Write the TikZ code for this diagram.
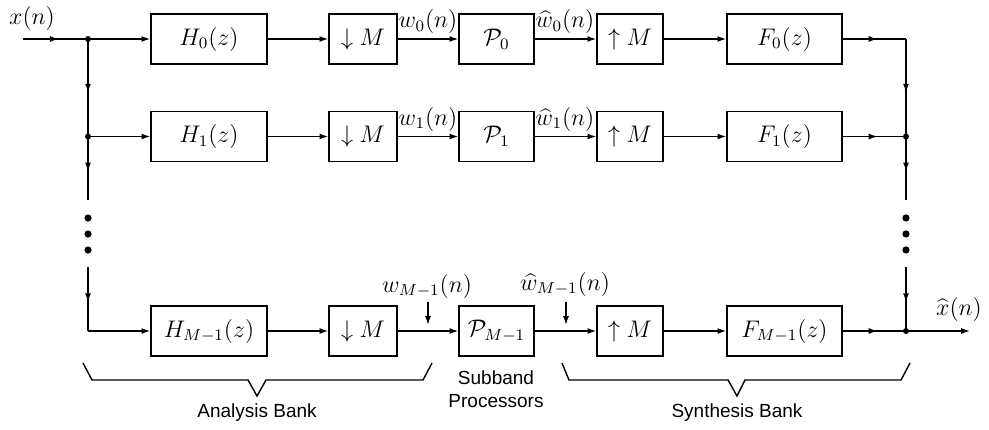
\documentclass[tikz,border=0pt]{standalone}
\usepackage{fontspec}
\newfontfamily\labelsf{Liberation Sans}
\usetikzlibrary{arrows.meta,decorations.markings}
\tikzset{
  lw/.style={line width=0.7pt},
  tip/.tip={Latex[length=4.4pt,width=3pt]},
  blk/.style={draw,lw,inner sep=0pt,minimum height=25pt,font=\fontsize{12}{14}\selectfont},
  conn/.style={lw,-tip},
  midarr/.style={lw,decoration={markings,mark=at position 0.55 with {\arrow[line width=0.7pt]{tip}}},postaction={decorate}},
  mlabel/.style={inner sep=0pt,font=\fontsize{12}{14}\selectfont},
  slabel/.style={inner sep=0pt,align=center,font=\labelsf\fontsize{9.5}{11.5}\selectfont},
  jdot/.style={circle,fill,inner sep=0pt,minimum size=3pt},
  edot/.style={circle,fill,inner sep=0pt,minimum size=3.6pt},
}
\begin{document}
\begin{tikzpicture}[x=0.5pt,y=-0.5pt]
\useasboundingbox (0,0) rectangle (989,429);
% boxes
\foreach \r/\y/\s in {0/39/0,1/136.5/1,2/331/{M-1}}{
  \node[blk,minimum width=58pt]   (H\r) at (209,\y)   {$H_{\s}(z)$};
  \node[blk,minimum width=34pt]   (D\r) at (363,\y)   {$\downarrow M$};
  \node[blk,minimum width=37.5pt] (P\r) at (496.5,\y) {$\mathcal{P}_{\s}$};
  \node[blk,minimum width=33pt]   (U\r) at (630,\y)   {$\uparrow M$};
  \node[blk,minimum width=57.5pt] (F\r) at (784.5,\y) {$F_{\s}(z)$};
  \draw[conn] (H\r) -- (D\r);
  \draw[conn] (D\r) -- (P\r);
  \draw[conn] (P\r) -- (U\r);
  \draw[conn] (U\r) -- (F\r);
}
% left side
\coordinate (in) at (23,39);
\coordinate (J0) at (88,39);
\coordinate (J1) at (88,136.5);
\coordinate (La) at (88,200);
\coordinate (Lb) at (88,267);
\coordinate (J2) at (88,331);
\draw[midarr] (in) -- (J0);
\draw[conn] (J0) -- (H0);
\draw[conn] (J1) -- (H1);
\draw[conn] (J2) -- (H2);
\draw[midarr] (J0) -- (J1);
\draw[midarr] (J1) -- (La);
\draw[midarr] (Lb) -- (J2);
\node[jdot] at (J0) {};
\node[jdot] at (J1) {};
\foreach \yy in {218,234,250} \node[edot] at (88,\yy) {};
% right side
\coordinate (R0) at (906,39);
\coordinate (R1) at (906,136.5);
\coordinate (Ra) at (906,200);
\coordinate (Rb) at (906,267);
\coordinate (R2) at (906,331);
\coordinate (out) at (970,331);
\draw[midarr] (F0) -- (R0);
\draw[midarr] (F1) -- (R1);
\draw[midarr] (F2) -- (R2);
\draw[midarr] (R0) -- (R1);
\draw[midarr] (R1) -- (Ra);
\draw[midarr] (Rb) -- (R2);
\draw[conn] (R2) -- (out);
\node[jdot] at (R1) {};
\node[jdot] at (R2) {};
\foreach \yy in {218,234,250} \node[edot] at (906,\yy) {};
% labels
\node[mlabel] (xin) at (32,18) {$x(n)$};
\node[mlabel] (xout) at (959,309) {$\widehat{x}(n)$};
\node[mlabel,anchor=south] (w0) at (428,34) {$w_0(n)$};
\node[mlabel,anchor=south] (v0) at (565,34) {$\widehat{w}_0(n)$};
\node[mlabel,anchor=south] (w1) at (428,131.5) {$w_1(n)$};
\node[mlabel,anchor=south] (v1) at (565,131.5) {$\widehat{w}_1(n)$};
\node[mlabel] (w2) at (427,286) {$w_{M-1}(n)$};
\node[mlabel] (v2) at (565,284) {$\widehat{w}_{M-1}(n)$};
\coordinate (wa) at (428,302); \coordinate (wb) at (428,325);
\coordinate (va) at (566,302); \coordinate (vb) at (566,325);
\draw[conn] (wa) -- (wb);
\draw[conn] (va) -- (vb);
% brackets
\draw[lw] (83,363) -- (92,380) -- (248,380) -- (257,396) -- (266,380) -- (423,380) -- (432,363);
\draw[lw] (562,363) -- (569,380) -- (728,380) -- (737,396) -- (745,380) -- (901,380) -- (910,363);
\node[slabel] (ab) at (257,413) {Analysis Bank};
\node[slabel] (sp) at (496,389) {Subband\\Processors};
\node[slabel] (sb) at (737,413) {Synthesis Bank};
\end{tikzpicture}
\end{document}
